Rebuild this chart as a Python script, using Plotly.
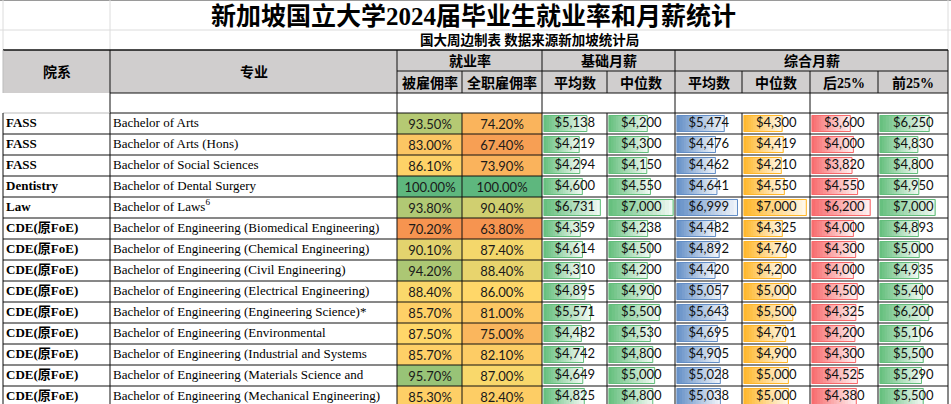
import plotly.graph_objects as go

# data
schools = ["FASS", "FASS", "FASS", "Dentistry", "Law"] + ["CDE(原FoE)"] * 9
majors = [
    "Bachelor of Arts",
    "Bachelor of Arts (Hons)",
    "Bachelor of Social Sciences",
    "Bachelor of Dental Surgery",
    "Bachelor of Laws<sup>6</sup>",
    "Bachelor of Engineering (Biomedical Engineering)",
    "Bachelor of Engineering (Chemical Engineering)",
    "Bachelor of Engineering (Civil Engineering)",
    "Bachelor of Engineering (Electrical Engineering)",
    "Bachelor of Engineering (Engineering Science)*",
    "Bachelor of Engineering (Environmental",
    "Bachelor of Engineering (Industrial and Systems",
    "Bachelor of Engineering (Materials Science and",
    "Bachelor of Engineering (Mechanical Engineering)",
]
employed = [93.5, 83.0, 86.1, 100.0, 93.8, 70.2, 90.1, 94.2, 88.4, 85.7, 87.5, 85.7, 95.7, 85.3]
fulltime = [74.2, 67.4, 73.9, 100.0, 90.4, 63.8, 87.4, 88.4, 86.0, 81.0, 75.0, 82.1, 87.0, 82.4]
basic_mean = [5138, 4219, 4294, 4600, 6731, 4359, 4614, 4310, 4895, 5571, 4482, 4742, 4649, 4825]
basic_median = [4200, 4300, 4150, 4550, 7000, 4238, 4500, 4200, 4900, 5500, 4530, 4800, 5000, 4800]
gross_mean = [5474, 4476, 4462, 4641, 6999, 4482, 4892, 4420, 5057, 5643, 4695, 4905, 5028, 5038]
gross_median = [4300, 4419, 4210, 4550, 7000, 4325, 4760, 4200, 5000, 5500, 4701, 4900, 5000, 5000]
gross_p25 = [3600, 4000, 3820, 4550, 6200, 4000, 4300, 4000, 4500, 4325, 4200, 4300, 4525, 4380]
gross_p75 = [6250, 4830, 4800, 4950, 7000, 4893, 5000, 4935, 5400, 6200, 5106, 5500, 5290, 5500]

title = "新加坡国立大学2024届毕业生就业率和月薪统计"
subtitle = "国大周边制表 数据来源新加坡统计局"
group_headers = ["就业率", "基础月薪", "综合月薪"]
sub_headers = ["被雇佣率", "全职雇佣率", "平均数", "中位数", "平均数", "中位数", "后25%", "前25%"]

# layout in pixels (page is 951 x 404)
W, H = 951, 404
cols = [3, 110, 397, 462, 542, 607, 675, 742, 810, 878, 948]
row_top, row_h = 113, 21
n = len(majors)
row_edges = [row_top + row_h * i for i in range(n + 1)]
row_mid = [row_top + row_h * (i + 0.5) for i in range(n)]

CJK = "Liberation Serif, Noto Sans CJK SC"
NUM = "Lato"


def mix(hexcol, t):
    r, g, b = int(hexcol[1:3], 16), int(hexcol[3:5], 16), int(hexcol[5:7], 16)
    r, g, b = [round(c + (255 - c) * t) for c in (r, g, b)]
    return f"rgb({r},{g},{b})"


fig = go.Figure()

# colour-scaled employment columns
low, mid, high = "#F69450", "#FFD96A", "#5EB77E"
for vals, ci, midv in [(employed, 2, 88.0), (fulltime, 3, 86.5)]:
    lo_v, hi_v = min(vals), max(vals)
    f = (midv - lo_v) / (hi_v - lo_v)
    fig.add_trace(go.Heatmap(
        x=[cols[ci], cols[ci + 1]], y=row_edges, z=[[v] for v in vals],
        zmin=lo_v, zmax=hi_v, colorscale=[[0, low], [f, mid], [1, high]],
        showscale=False, texttemplate="%{z:.2f}%", hoverinfo="skip",
        textfont=dict(family=NUM, size=13, color="#1a1a1a")))

# data-bar columns, each on its own x axis
bar_cols = [
    (basic_mean, "#63BE7B", 0, 7400, 4),
    (basic_median, "#63BE7B", 0, 7100, 5),
    (gross_mean, "#638EC6", 0, 7400, 6),
    (gross_median, "#FFB628", 0, 7300, 7),
    (gross_p25, "#F8696B", -1500, 7100, 8),
    (gross_p75, "#63BE7B", 0, 8500, 9),
]
N = 16
for k, (vals, color, lo, hi, ci) in enumerate(bar_cols):
    ax = f"x{k + 2}"
    fig.update_layout({f"xaxis{k + 2}": dict(
        domain=[(cols[ci] + 1.5) / W, (cols[ci + 1] - 1) / W],
        range=[lo, hi], anchor="y", visible=False, fixedrange=True)})
    # gradient: each step starts further right and runs to the bar end
    for s in range(N):
        fig.add_trace(go.Bar(
            orientation="h", y=row_mid, xaxis=ax, yaxis="y",
            base=[lo + (v - lo) * s / N for v in vals],
            x=[(v - lo) * (N - s) / N for v in vals], width=16,
            marker=dict(color=mix(color, 0.92 * (s + 0.5) / N), line_width=0),
            hoverinfo="skip", showlegend=False))
    fig.add_trace(go.Bar(
        orientation="h", y=row_mid, xaxis=ax, yaxis="y",
        base=[lo] * n, x=[v - lo for v in vals], width=16,
        marker=dict(color="rgba(0,0,0,0)", line=dict(color=color, width=1)),
        hoverinfo="skip", showlegend=False))
    fig.add_trace(go.Scatter(
        x=[(lo + hi) / 2] * n, y=row_mid, mode="text", xaxis=ax, yaxis="y",
        text=[f"${v:,}" for v in vals],
        textfont=dict(family=NUM, size=13, color="#111"),
        hoverinfo="skip", showlegend=False))

# text columns
fig.add_trace(go.Scatter(
    x=[cols[0] + 3] * n, y=row_mid, mode="text", text=[f"<b>{s}</b>" for s in schools],
    textposition="middle right", textfont=dict(family=CJK, size=13, color="#000"),
    hoverinfo="skip", showlegend=False))
fig.add_trace(go.Scatter(
    x=[cols[1] + 3] * n, y=row_mid, mode="text", text=majors,
    textposition="middle right", textfont=dict(family="Liberation Serif", size=13, color="#000"),
    hoverinfo="skip", showlegend=False))

# header fill
shapes = [dict(type="rect", x0=cols[0], x1=cols[-1], y0=50, y1=93, fillcolor="#D0CECE",
               line_width=0, layer="below")]


def hline(y, x0, x1, color="#111", w=1):
    shapes.append(dict(type="line", x0=x0, x1=x1, y0=y, y1=y, line=dict(color=color, width=w)))


def vline(x, y0, y1, color="#111", w=1):
    shapes.append(dict(type="line", x0=x, x1=x, y0=y0, y1=y1, line=dict(color=color, width=w)))


# faint sheet gridlines above the table
hline(0.5, 0, W, "#9a9a9a")
hline(30, 0, W, "#dcdcdc")
for x in [cols[0], cols[1], cols[-1]]:
    vline(x, 0, 50, "#dcdcdc")

# header borders
hline(50, cols[0], cols[-1], "#111", 1.5)
hline(71, cols[2], cols[-1])
hline(93, cols[1], cols[-1])
for x in [cols[1], cols[2], cols[4], cols[6], cols[-1]]:
    vline(x, 50, 93)
for x in [cols[3], cols[5], cols[7], cols[8], cols[9]]:
    vline(x, 71, 93)
vline(cols[0], 50, 93, "#bbbbbb")

# blank row
for x in [cols[1], cols[2], cols[4], cols[6], cols[8], cols[-1]]:
    vline(x, 93, 113)
hline(113, cols[1], cols[-1])
hline(113, cols[0], cols[1], "#bbbbbb")

# body grid
for y in row_edges[1:]:
    hline(y, cols[0], cols[-1])
for x in cols:
    vline(x, 113, H + 5)

ann = [
    dict(x=473, y=16, text=f"<b>{title}</b>", font=dict(family=CJK, size=25, color="#000")),
    dict(x=529, y=40, text=f"<b>{subtitle}</b>", font=dict(family=CJK, size=13.5, color="#000")),
    dict(x=(cols[0] + cols[1]) / 2, y=71.5, text="<b>院系</b>", font=dict(family=CJK, size=14, color="#000")),
    dict(x=(cols[1] + cols[2]) / 2, y=71.5, text="<b>专业</b>", font=dict(family=CJK, size=14, color="#000")),
]
for txt, (a, b) in zip(group_headers, [(2, 4), (4, 6), (6, 10)]):
    ann.append(dict(x=(cols[a] + cols[b]) / 2, y=61, text=f"<b>{txt}</b>",
                    font=dict(family=CJK, size=14, color="#000")))
for i, txt in enumerate(sub_headers):
    ann.append(dict(x=(cols[i + 2] + cols[i + 3]) / 2, y=82.5, text=f"<b>{txt}</b>",
                    font=dict(family=CJK, size=14, color="#000")))
for a in ann:
    a.update(xref="x", yref="y", showarrow=False, xanchor="center", yanchor="middle")

fig.update_layout(
    width=W, height=H, margin=dict(l=0, r=0, t=0, b=0), autosize=False,
    paper_bgcolor="white", plot_bgcolor="rgba(0,0,0,0)",
    barmode="overlay", showlegend=False,
    xaxis=dict(range=[0, W], visible=False, fixedrange=True, domain=[0, 1]),
    yaxis=dict(range=[H, 0], visible=False, fixedrange=True, domain=[0, 1]),
    shapes=shapes, annotations=ann,
)

fig.write_html("out.html", config={"displayModeBar": False, "staticPlot": True},
               post_script="document.body.style.margin='0';")
